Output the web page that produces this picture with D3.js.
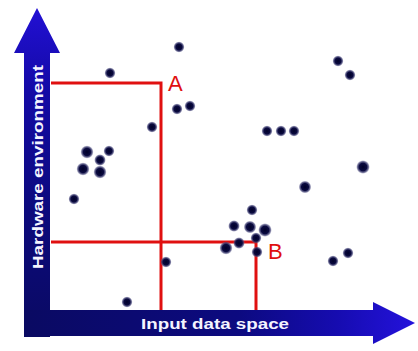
<!DOCTYPE html>
<html><head><meta charset="utf-8">
<script src="https://cdn.jsdelivr.net/npm/d3@7/dist/d3.min.js"></script>
<style>html,body{margin:0;padding:0;background:#fff;}svg{display:block;}</style>
</head><body>
<script>
// Data (units are arbitrary plot units)
const pointX = [60,129,127,140,102,217,231,244,288,300,313,255,37,59,50,33,50,24,202,184,200,215,189,176,206,207,116,283,298,77];
const pointY = [237,263,201,204,183,179,179,179,249,235,143,123,158,159,150,141,138,111,100,84,83,80,67,62,72,58,48,49,57,8];
const pointSize = [1,1,1,1,1,1,1,1,1,1,1.5,1.3,1.4,1,1.1,1.4,1.4,1,1,1.1,1.3,1.5,1.1,1.4,1,1,1,1,1,1];
const regionNames = ["A","B"];
const regionX = [111,206];
const regionY = [227,68];
const xLabel = "Input data space";
const yLabel = "Hardware environment";

const W = 418, H = 351;
const svg = d3.select("body").append("svg").attr("width", W).attr("height", H);
const x = d3.scaleLinear().domain([0,330]).range([50,380]);
const y = d3.scaleLinear().domain([0,260]).range([310,50]);
const r = d3.scaleSqrt().domain([0,1]).range([0,4.2]);

const defs = svg.append("defs");
const vg = defs.append("linearGradient").attr("id","vGrad")
  .attr("gradientUnits","userSpaceOnUse").attr("x1",0).attr("y1",337).attr("x2",0).attr("y2",8);
vg.append("stop").attr("offset","0").attr("stop-color","#0a0a62");
vg.append("stop").attr("offset","0.4").attr("stop-color","#0c0a7e");
vg.append("stop").attr("offset","0.75").attr("stop-color","#140aa6");
vg.append("stop").attr("offset","1").attr("stop-color","#2210d4");
const hg = defs.append("linearGradient").attr("id","hGrad")
  .attr("gradientUnits","userSpaceOnUse").attr("x1",24).attr("y1",0).attr("x2",415).attr("y2",0);
hg.append("stop").attr("offset","0").attr("stop-color","#0a0a62");
hg.append("stop").attr("offset","0.55").attr("stop-color","#0c0a80");
hg.append("stop").attr("offset","0.8").attr("stop-color","#160cb0");
hg.append("stop").attr("offset","1").attr("stop-color","#2412dc");
const dg = defs.append("radialGradient").attr("id","dotGrad");
dg.append("stop").attr("offset","0").attr("stop-color","#000028");
dg.append("stop").attr("offset","0.55").attr("stop-color","#0a0a40");
dg.append("stop").attr("offset","0.8").attr("stop-color","#3a3a70").attr("stop-opacity",0.7);
dg.append("stop").attr("offset","1").attr("stop-color","#8888b0").attr("stop-opacity",0);

// Axis arrows (L-shaped)
const x0 = x(0), y0 = y(0);
svg.append("path").attr("d", d3.line()([[24,337],[24,53],[14,53],[37,8],[60,53],[x0,53],[x0,337]]) + "Z")
  .attr("fill","url(#vGrad)");
svg.append("path").attr("d", d3.line()([[24,y0],[373,y0],[373,302],[415,323],[373,344],[373,336],[24,336]]) + "Z")
  .attr("fill","url(#hGrad)");

// Red region lines
const red = "#e01010";
regionNames.forEach((n,i) => {
  const cx = x(regionX[i]), cy = y(regionY[i]);
  svg.append("path")
    .attr("d", d3.line()([[x(0)+1,cy],[cx,cy],[cx,y(0)]]))
    .attr("fill","none").attr("stroke",red).attr("stroke-width",3);
});

// Points
svg.append("g").selectAll("circle").data(pointX.map((v,i)=>({x:v,y:pointY[i],s:pointSize[i]})))
  .join("circle")
  .attr("cx",d=>x(d.x)).attr("cy",d=>y(d.y)).attr("r",d=>r(d.s)*1.35)
  .attr("fill","url(#dotGrad)");

// Region labels
const offs = [[7,8],[12,17]];
regionNames.forEach((n,i) => {
  svg.append("text").attr("x", x(regionX[i])+offs[i][0]).attr("y", y(regionY[i])+offs[i][1])
    .attr("font-family","Liberation Sans, Arial, sans-serif").attr("font-size",22)
    .attr("fill",red).text(n);
});

// Axis labels
svg.append("text").attr("x",215).attr("y",329).attr("text-anchor","middle")
  .attr("font-family","Liberation Sans, Arial, sans-serif").attr("font-weight","bold")
  .attr("font-size",15).attr("fill","#f4f4ff").attr("textLength",148).attr("lengthAdjust","spacingAndGlyphs")
  .text(xLabel);
svg.append("text").attr("transform","translate(43,167) rotate(-90)").attr("text-anchor","middle")
  .attr("font-family","Liberation Sans, Arial, sans-serif").attr("font-weight","bold")
  .attr("font-size",15).attr("fill","#f4f4ff").attr("textLength",204).attr("lengthAdjust","spacingAndGlyphs")
  .text(yLabel);
</script>
</body></html>
